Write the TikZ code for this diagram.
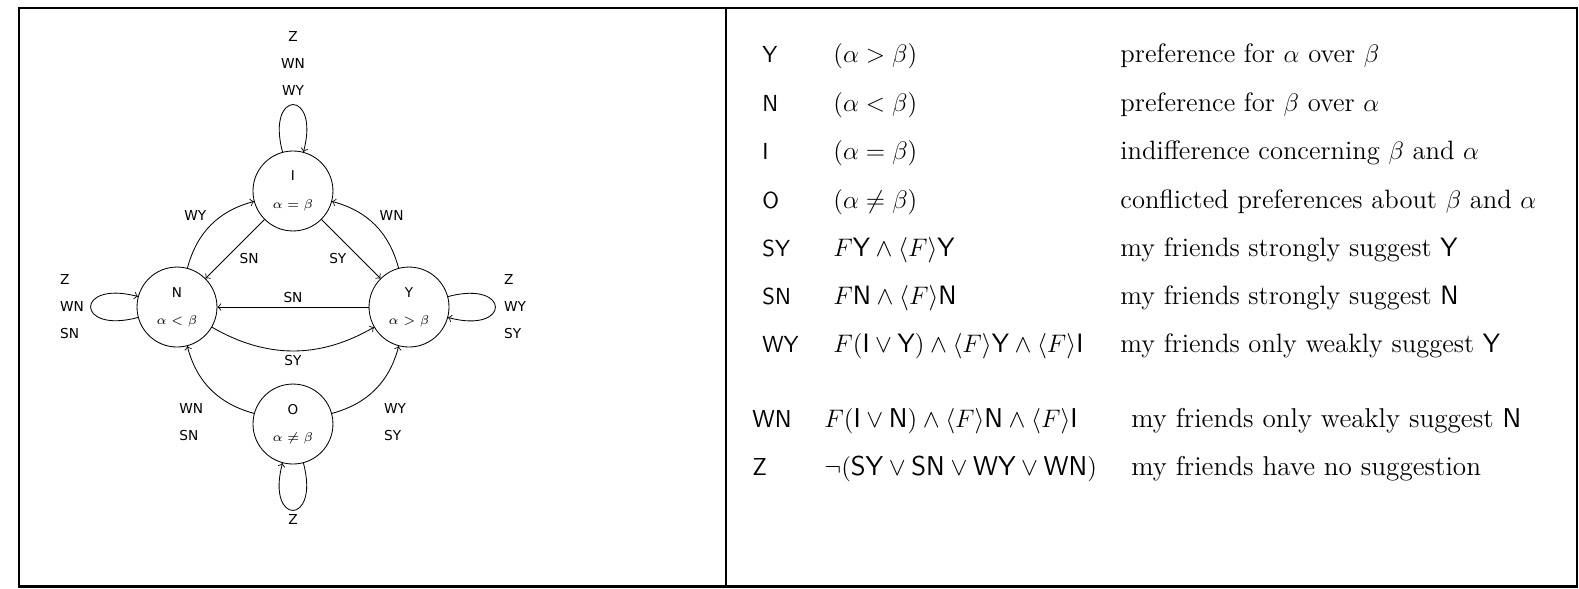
\documentclass[tikz,border=0pt]{standalone}
\usepackage{amsmath}
\usepackage{fontspec}
\usepackage{tikz}
\usepackage{xcolor}
\newfontfamily\lblfont{DejaVu Sans}
\newcommand{\rel}[1]{{\fontsize{6.5}{13}\selectfont$#1$}}

\begin{document}
\begin{tikzpicture}[
  state/.style={circle,draw,minimum size=1.333cm,inner sep=0pt,align=center,font=\lblfont\fontsize{6.4}{13}\selectfont},
  lbl/.style={font=\lblfont\fontsize{6.5}{12.8}\selectfont,inner sep=2pt},
  cell/.style={anchor=base west,inner sep=0pt,font=\fontsize{12.6}{14}\selectfont},
  key/.style={cell,font=\sffamily\fontsize{11}{13}\selectfont},
  cellb/.style={anchor=base west,inner sep=0pt,font=\fontsize{12.9}{14}\selectfont},
  keyb/.style={cellb,font=\sffamily\fontsize{11.6}{13}\selectfont}]
\useasboundingbox (0,0) rectangle (26.317,9.8);
\draw[line width=1.4pt] (0.317,0.033) rectangle (26.283,9.667);
\draw[line width=1.4pt] (12.1,0.033) -- (12.1,9.667);

% states
\node[state] (I) at (4.883,6.617) {I\\\rel{\alpha=\beta}};
\node[state] (N) at (2.95,4.683) {N\\\rel{\alpha<\beta}};
\node[state] (Y) at (6.817,4.683) {Y\\\rel{\alpha>\beta}};
\node[state] (O) at (4.883,2.733) {O\\\rel{\alpha\neq\beta}};

% loops
\draw[->] (I) to[loop above] node[lbl,above=2pt,align=center] (zI) {Z\\WN\\WY} (I);
\draw[->] (N) to[loop left] node[lbl,left=1pt,align=left] (zN) {Z\\WN\\SN} (N);
\draw[->] (Y) to[loop right] node[lbl,right=2pt,align=left] (zY) {Z\\WY\\SY} (Y);
\draw[->] (O) to[loop below] node[lbl,below] (zO) {Z} (O);

% transitions
\draw[->] (N) to[bend left=30] node[lbl,above left] (wyNI) {WY} (I);
\draw[->] (Y) to[bend right=30] node[lbl,above right] (wnYI) {WN} (I);
\draw[->] (I) -- node[lbl,below right] (snIN) {SN} (N);
\draw[->] (I) -- node[lbl,below left] (syIY) {SY} (Y);
\draw[->] (Y) -- node[lbl,above] (snYN) {SN} (N);
\draw[->] (N) to[bend right=30] node[lbl,below] (syNY) {SY} (Y);
\draw[->] (O) to[bend left=30] node[lbl,below left,align=left,xshift=-0.05cm,yshift=-0.15cm] (oN) {WN\\SN} (N);
\draw[->] (O) to[bend right=30] node[lbl,below right,align=left,xshift=0.07cm,yshift=-0.15cm] (oY) {WY\\SY} (Y);

% table
\node[key] (kY) at (12.7,8.755) {Y};
\node[cell] (fY) at (13.883,8.755) {$(\alpha>\beta)$};
\node[cell] (dY) at (18.667,8.755) {preference for $\alpha$ over $\beta$};

\node[key] (kN) at (12.7,7.95) {N};
\node[cell] (fN) at (13.883,7.95) {$(\alpha<\beta)$};
\node[cell] (dN) at (18.667,7.95) {preference for $\beta$ over $\alpha$};

\node[key] (kI) at (12.7,7.15) {I};
\node[cell] (fI) at (13.883,7.15) {$(\alpha=\beta)$};
\node[cell] (dI) at (18.667,7.15) {indifference concerning $\beta$ and $\alpha$};

\node[key] (kO) at (12.7,6.333) {O};
\node[cell] (fO) at (13.883,6.333) {$(\alpha\neq\beta)$};
\node[cell] (dO) at (18.667,6.333) {conflicted preferences about $\beta$ and $\alpha$};

\node[key] (kSY) at (12.7,5.533) {SY};
\node[cell] (fSY) at (13.883,5.533) {$F\mathsf{Y}\wedge\langle F\rangle\mathsf{Y}$};
\node[cell] (dSY) at (18.667,5.533) {my friends strongly suggest \textsf{Y}};

\node[key] (kSN) at (12.7,4.717) {SN};
\node[cell] (fSN) at (13.883,4.717) {$F\mathsf{N}\wedge\langle F\rangle\mathsf{N}$};
\node[cell] (dSN) at (18.667,4.717) {my friends strongly suggest \textsf{N}};

\node[key] (kWY) at (12.7,3.917) {WY};
\node[cell] (fWY) at (13.883,3.917) {$F(\mathsf{I}\vee\mathsf{Y})\wedge\langle F\rangle\mathsf{Y}\wedge\langle F\rangle\mathsf{I}$};
\node[cell] (dWY) at (18.667,3.917) {my friends only weakly suggest \textsf{Y}};

\node[keyb] (kWN) at (12.533,2.667) {WN};
\node[cellb] (fWN) at (13.733,2.667) {$F(\mathsf{I}\vee\mathsf{N})\wedge\langle F\rangle\mathsf{N}\wedge\langle F\rangle\mathsf{I}$};
\node[cellb] (dWN) at (18.85,2.667) {my friends only weakly suggest \textsf{N}};

\node[keyb] (kZ) at (12.533,1.867) {Z};
\node[cellb] (fZ) at (13.733,1.867) {$\neg(\mathsf{SY}\vee\mathsf{SN}\vee\mathsf{WY}\vee\mathsf{WN})$};
\node[cellb] (dZ) at (18.85,1.867) {my friends have no suggestion};

\end{tikzpicture}
\end{document}
